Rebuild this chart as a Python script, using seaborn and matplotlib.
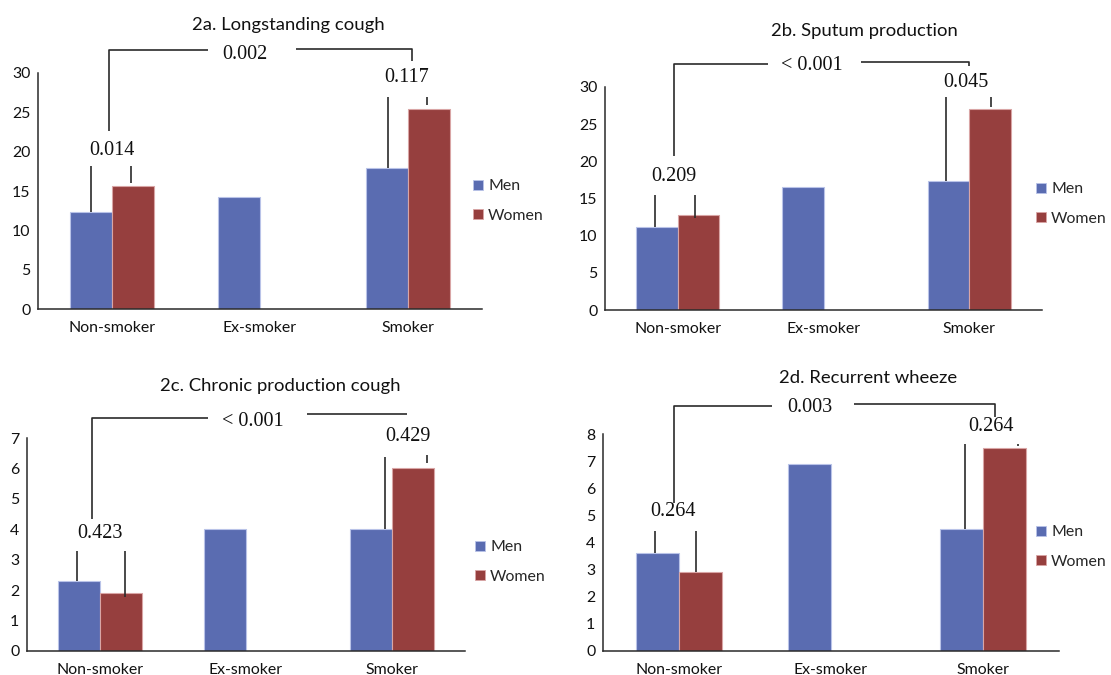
import numpy as np
import pandas as pd
import matplotlib
matplotlib.use("Agg")
import matplotlib.pyplot as plt
import seaborn as sns
from matplotlib.patches import Patch

# ---------------- data ----------------
categories = ["Non-smoker", "Ex-smoker", "Smoker"]
sexes = ["Men", "Women"]

men_a = [12.3, 14.2, 17.9]
women_a = [15.6, np.nan, 25.4]
men_b = [11.2, 16.6, 17.3]
women_b = [12.8, np.nan, 27.0]
men_c = [2.3, 4.0, 4.0]
women_c = [1.9, np.nan, 6.0]
men_d = [3.6, 6.9, 4.5]
women_d = [2.9, np.nan, 7.5]

titles = ["2a. Longstanding cough", "2b. Sputum production",
          "2c. Chronic production cough", "2d. Recurrent wheeze"]
# p-values: within non-smokers, non-smoker vs smoker, within smokers
p_a = ["0.014", "0.002", "0.117"]
p_b = ["0.209", "< 0.001", "0.045"]
p_c = ["0.423", "< 0.001", "0.429"]
p_d = ["0.264", "0.003", "0.264"]
ymax = [30, 30, 7, 8]
ystep = [5, 5, 1, 1]

# ---------------- style ----------------
sns.set_theme(style="white")
plt.rcParams["font.family"] = ["Lato", "DejaVu Sans"]
BLUE = "#5A6CB1"
RED = "#963F3E"
BLUE_EDGE = "#B9C3E8"
RED_EDGE = "#D9A5A5"
LINE = "#2a2a2a"
SERIF = ["Liberation Serif", "DejaVu Serif"]
TICK_FS = 11.4
TITLE_FS = 13.3
P_FS = 14.5

W, H = 1111, 675
fig = plt.figure(figsize=(W / 100, H / 100), dpi=100)


def frac_box(left, right, top, bottom):
    return [left / W, 1 - bottom / H, (right - left) / W, (bottom - top) / H]


# layout (pixels): axes boxes, title centres, legend anchors
boxes = [frac_box(38, 482, 73, 309), frac_box(605, 1042, 87, 310),
         frac_box(27, 465, 438, 651), frac_box(603, 1059, 434, 651)]
title_pos = [(288, 25), (864, 31), (280, 386), (868, 378)]
legend_pos = [(473, 201), (1036, 204), (475, 562), (1036, 547)]

# annotation layout per panel (data coordinates of helper lines)
# (men line x, men top, women line x, women bottom, women top, text x, text y)
within_ns = [(-0.14, 18.2, 0.13, 16.0, 18.2, 0.0, 20.1),
             (-0.16, 15.5, 0.12, 12.4, 15.5, -0.03, 18.0),
             (-0.16, 3.29, 0.17, 1.78, 3.29, 0.0, 3.86),
             (-0.16, 4.44, 0.11, 2.9, 4.44, -0.04, 5.13)]
# (left x, left bottom, left top, left end x, right start x, right end x, right y,
#  right drop, text x, text y)
across = [(-0.02, 22.6, 32.9, 0.65, 1.24, 2.03, 33.0, 31.5, 0.90, 32.3),
          (-0.024, 20.7, 33.1, 0.62, 1.26, 2.0, 33.4, 32.8, 0.92, 32.9),
          (-0.054, 4.35, 7.67, 0.74, 1.42, 2.10, 7.78, None, 1.05, 7.53),
          (-0.03, 5.46, 9.04, 0.61, 1.15, 2.08, 9.12, 8.63, 0.86, 8.98)]
# (men line x, men top, women tick x, women top, women bottom, text x, text y)
within_sm = [(1.865, 26.9, 2.13, 26.9, 25.9, 1.99, 29.4),
             (1.84, 28.6, 2.15, 28.6, 27.3, 1.98, 30.6),
             (1.95, 6.36, 2.24, 6.43, 6.18, 2.11, 7.06),
             (1.88, 7.64, 2.23, 7.62, 7.55, 2.05, 8.28)]

men_all = [men_a, men_b, men_c, men_d]
women_all = [women_a, women_b, women_c, women_d]
p_all = [p_a, p_b, p_c, p_d]
blue_rgb = matplotlib.colors.to_rgb(BLUE)

for i in range(4):
    ax = fig.add_axes(boxes[i])
    df = pd.DataFrame({
        "Status": categories * 2,
        "Sex": ["Men"] * 3 + ["Women"] * 3,
        "Value": list(men_all[i]) + list(women_all[i]),
    })
    sns.barplot(data=df, x="Status", y="Value", hue="Sex", order=categories,
                hue_order=sexes, palette=[BLUE, RED], width=0.57,
                errorbar=None, ax=ax, legend=False, saturation=1)
    for p in ax.patches:
        fc = p.get_facecolor()[:3]
        is_blue = np.allclose(fc, blue_rgb, atol=0.02)
        p.set_edgecolor(BLUE_EDGE if is_blue else RED_EDGE)
        p.set_linewidth(0.8)

    ax.set_xlim(-0.5, 2.5)
    ax.set_ylim(0, ymax[i])
    ax.set_yticks(np.arange(0, ymax[i] + 0.01, ystep[i]))
    ax.set_xlabel("")
    ax.set_ylabel("")
    for s in ["top", "right"]:
        ax.spines[s].set_visible(False)
    for s in ["left", "bottom"]:
        ax.spines[s].set_color(LINE)
        ax.spines[s].set_linewidth(1.1)
    ax.tick_params(axis="both", length=0, labelsize=TICK_FS, colors="#111111")
    ax.tick_params(axis="y", pad=5.5)
    ax.tick_params(axis="x", pad=8.5)
    ax.set_facecolor("white")

    men = men_all[i]
    pv = p_all[i]
    kw = dict(color=LINE, lw=1.2, clip_on=False, solid_capstyle="butt")

    # within non-smokers
    mx, mt, wx, wb, wt, tx, ty = within_ns[i]
    ax.plot([mx, mx], [men[0], mt], **kw)
    ax.plot([wx, wx], [wb, wt], **kw)
    ax.text(tx, ty, pv[0], ha="center", va="center", family=SERIF,
            fontsize=P_FS, color="#111111")

    # non-smoker vs smoker bracket
    lx, lb, lt, le, rs, re, ry, rd, tx, ty = across[i]
    ax.plot([lx, lx, le], [lb, lt, lt], **kw)
    if rd is None:
        ax.plot([rs, re], [ry, ry], **kw)
    else:
        ax.plot([rs, re, re], [ry, ry, rd], **kw)
    ax.text(tx, ty, pv[1], ha="center", va="center", family=SERIF,
            fontsize=P_FS, color="#111111")

    # within smokers
    mx, mt, wx, wt, wb, tx, ty = within_sm[i]
    ax.plot([mx, mx], [men[2], mt], **kw)
    ax.plot([wx, wx], [wb, wt], **kw)
    ax.text(tx, ty, pv[2], ha="center", va="center", family=SERIF,
            fontsize=P_FS, color="#111111")

    # title
    tx, ty = title_pos[i]
    fig.text(tx / W, 1 - ty / H, titles[i], ha="center", va="center",
             fontsize=TITLE_FS, color="#111111")

    # legend
    lx, ly = legend_pos[i]
    handles = [Patch(facecolor=BLUE, edgecolor=BLUE_EDGE, lw=0.6),
               Patch(facecolor=RED, edgecolor=RED_EDGE, lw=0.6)]
    fig.legend(handles, sexes, loc="center left",
               bbox_to_anchor=(lx / W, 1 - ly / H), frameon=False,
               borderpad=0, borderaxespad=0, handlelength=0.6,
               handleheight=0.6, handletextpad=0.35, labelspacing=0.95,
               fontsize=TICK_FS)

fig.savefig("out.png", dpi=100, facecolor="white")
